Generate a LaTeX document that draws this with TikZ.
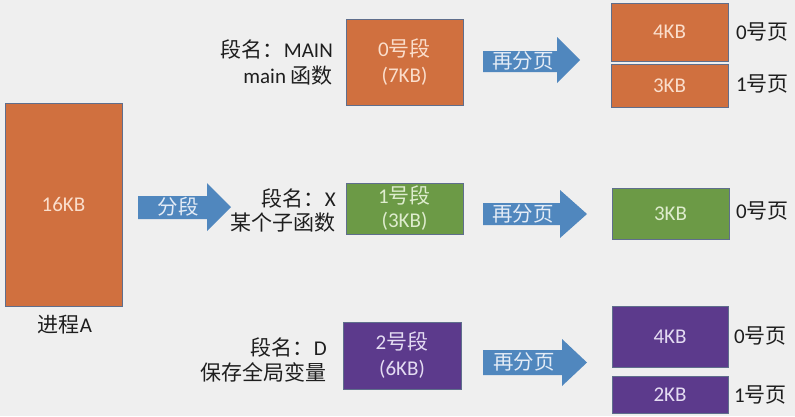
\documentclass[tikz,border=0pt]{standalone}
\usepackage{fontspec}
\setmainfont{Carlito}
\newfontfamily\cjk{Noto Sans CJK SC}
\usepackage{tikz}
\usetikzlibrary{calc,positioning}

\definecolor{bgrey}{RGB}{239,239,239}
\definecolor{segorange}{RGB}{208,112,63}
\definecolor{seggreen}{RGB}{108,154,70}
\definecolor{segpurple}{RGB}{92,58,140}
\definecolor{arrowblue}{RGB}{80,135,190}
\definecolor{edgegrey}{RGB}{95,110,140}
\definecolor{labeltext}{RGB}{30,30,30}

\tikzset{
  memblock/.style={draw=edgegrey, line width=0.6pt, inner sep=0pt, align=center,
    font=\fontsize{21}{26}\selectfont},
  orangeblock/.style={memblock, fill=segorange, text={rgb,255:red,250;green,222;blue,204}},
  greenblock/.style={memblock, fill=seggreen, text={rgb,255:red,222;green,236;blue,206}},
  purpleblock/.style={memblock, fill=segpurple, text={rgb,255:red,228;green,220;blue,242}},
  seglabel/.style={anchor=east, align=right, inner sep=0pt, text=labeltext,
    font=\fontsize{21}{26}\selectfont},
  pagelabel/.style={anchor=west, inner sep=0pt, text=labeltext,
    font=\fontsize{21}{24}\selectfont},
  arrowtext/.style={inner sep=0pt, text={rgb,255:red,228;green,236;blue,246},
    font=\cjk\fontsize{20.5}{22}\selectfont}
}

\begin{document}
\begin{tikzpicture}[x=1pt, y=-1pt]
      \useasboundingbox (0,0) rectangle (795,416);
      \fill[bgrey] (0,0) rectangle (795,416);

      % process
      \node[orangeblock, minimum width=117pt, minimum height=203pt] (proc) at (63.5, 204.5) {16KB};
      \node[seglabel, anchor=center] (procname) at (65, 325) {{\cjk 进程}A};

      % segments
      \node[orangeblock, minimum width=117pt, minimum height=86pt] (seg0) at (404.5, 62) {0{\cjk 号段}\\(7KB)};
      \node[greenblock, minimum width=117pt, minimum height=51pt] (seg1) at (404.5, 208.5) {1{\cjk 号段}\\[-2pt](3KB)};
      \node[purpleblock, minimum width=118pt, minimum height=67pt] (seg2) at (402, 355.5) {2{\cjk 号段}\\(6KB)};

      \node[seglabel] (name0) at (333, 62) {{\cjk 段名：}MAIN\\main {\cjk 函数}};
      \node[seglabel] (name1) at (336, 210) {{\cjk 段名：}X\\[-2pt]{\cjk 某个子函数}};
      \node[seglabel] (name2) at (327, 359.5) {{\cjk 段名：}D\\[-1pt]{\cjk 保存全局变量}};

      % pages
      \node[orangeblock, minimum width=117pt, minimum height=58pt] (pg00) at (669.5, 32) {4KB};
      \node[orangeblock, minimum width=117pt, minimum height=43pt] (pg01) at (669.5, 85.5) {3KB};
      \node[greenblock, minimum width=117pt, minimum height=51pt] (pg10) at (670.5, 213.5) {3KB};
      \node[purpleblock, minimum width=116pt, minimum height=61pt] (pg20) at (670, 336.5) {4KB};
      \node[purpleblock, minimum width=116pt, minimum height=37pt] (pg21) at (670, 394.5) {2KB};

      \node[pagelabel] (no00) at (736, 32) {0{\cjk 号页}};
      \node[pagelabel] (no01) at (736, 84) {1{\cjk 号页}};
      \node[pagelabel] (no10) at (736, 211) {0{\cjk 号页}};
      \node[pagelabel] (no20) at (734, 336) {0{\cjk 号页}};
      \node[pagelabel] (no21) at (734, 395) {1{\cjk 号页}};

      % block arrows
      \fill[arrowblue] (138,196) -- (207,196) -- (207,183) -- (231,207) -- (207,231) -- (207,219) -- (138,219) -- cycle;
      \fill[arrowblue] (483,51) -- (557,51) -- (557,37) -- (580,60) -- (557,83) -- (557,72) -- (483,72) -- cycle;
      \fill[arrowblue] (483,203) -- (560,203) -- (560,190) -- (587,214) -- (560,238) -- (560,225) -- (483,225) -- cycle;
      \fill[arrowblue] (483,350) -- (562,350) -- (562,339) -- (587,362.5) -- (562,386) -- (562,375) -- (483,375) -- cycle;

      \node[arrowtext] (split) at (178, 207) {分段};
      \node[arrowtext] (page0) at (523, 61) {再分页};
      \node[arrowtext] (page1) at (523, 214) {再分页};
      \node[arrowtext] (page2) at (524, 362) {再分页};
    \end{tikzpicture}
\end{document}
